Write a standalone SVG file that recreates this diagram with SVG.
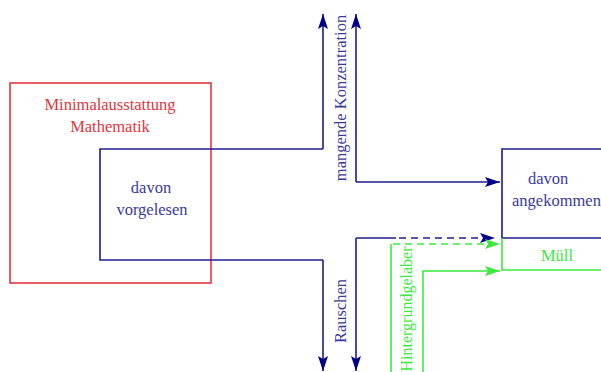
<svg xmlns="http://www.w3.org/2000/svg" width="601" height="372" viewBox="0 0 601 372">
<style>
text{font-family:"Liberation Serif","Times New Roman",serif;font-size:16.5px}
.b{fill:none;stroke:#1c1c8e;stroke-width:1.6}
.g{fill:none;stroke:#3cea3c;stroke-width:1.6}
.r{fill:none;stroke:#e0363c;stroke-width:1.6}
.d{stroke-dasharray:7,5}
.tb{fill:#3a3a9c}
.tg{fill:#3cea3c}
.tr{fill:#e0363c}
</style>
<defs>
<marker id="ab" markerUnits="userSpaceOnUse" markerWidth="16" markerHeight="12" refX="15" refY="5" orient="auto">
<path d="M0,0 L15,5 L0,10 L3,5 Z" fill="#00008b"/>
</marker>
<marker id="ag" markerUnits="userSpaceOnUse" markerWidth="16" markerHeight="12" refX="15" refY="5" orient="auto">
<path d="M0,0 L15,5 L0,10 L3,5 Z" fill="#3cea3c"/>
</marker>
</defs>
<g id="minimal">
<rect class="r" x="10" y="83" width="201" height="200"/>
<text class="tr" x="110" y="110" text-anchor="middle">Minimalausstattung</text>
<text class="tr" x="110" y="132" text-anchor="middle">Mathematik</text>
</g>
<g id="vorgelesen">
<path class="b" d="M323,149 H100 V260 H323"/>
<text class="tb" x="151" y="193" text-anchor="middle">davon</text>
<text class="tb" x="152" y="215" text-anchor="middle">vorgelesen</text>
</g>
<g id="angekommen">
<path class="b" d="M601,149 H502 V238 H601"/>
<text class="tb" x="528" y="184">davon</text>
<text class="tb" x="512" y="206">angekommen</text>
</g>
<g id="muell">
<path class="g" d="M502,238 V270 H601"/>
<text class="tg" x="557" y="261" text-anchor="middle">Müll</text>
</g>
<g id="connectors">
<path class="b" d="M323,149 V14" marker-end="url(#ab)"/>
<path class="b" d="M356,182 V14" marker-end="url(#ab)"/>
<path class="b" d="M356,182 H500" marker-end="url(#ab)"/>
<path class="b" d="M323,260 V371" marker-end="url(#ab)"/>
<path class="b" d="M356,238 V371" marker-end="url(#ab)"/>
<path class="b" d="M356,238 H396"/>
<path class="b d" d="M399,238 H495" marker-end="url(#ab)"/>
<path class="g" d="M391,372 V244"/>
<path class="g d" d="M393,244 H500" marker-end="url(#ag)"/>
<path class="g" d="M423,372 V271 H500" marker-end="url(#ag)"/>
<text class="tb" transform="translate(346,98) rotate(-90)" text-anchor="middle">mangende Konzentration</text>
<text class="tb" transform="translate(346,311) rotate(-90)" text-anchor="middle">Rauschen</text>
<text class="tg" transform="translate(412,309) rotate(-90)" text-anchor="middle" style="font-size:16px">Hintergrundgelaber</text>
</g>
</svg>
